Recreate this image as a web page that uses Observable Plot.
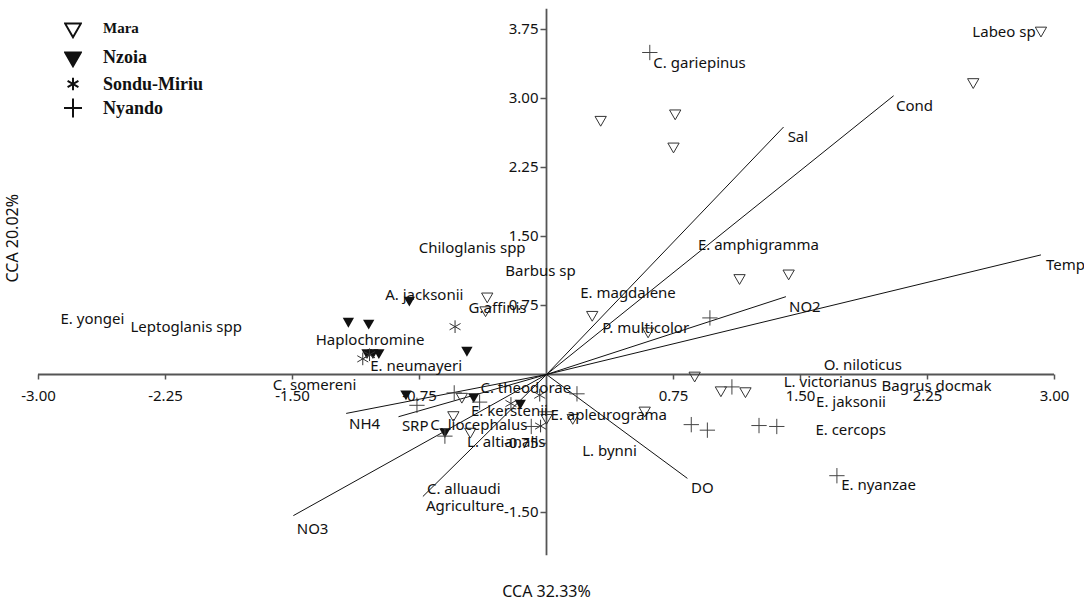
<!DOCTYPE html>
<html><head><meta charset="utf-8">
<script src="https://cdn.jsdelivr.net/npm/d3@7"></script>
<script src="https://cdn.jsdelivr.net/npm/@observablehq/plot@0.6"></script>
<style>
body{margin:0;background:#fff;}
#wrap{position:relative;width:1084px;height:606px;}
#legend{position:absolute;left:0;top:0;width:300px;font-family:"Liberation Serif","Times New Roman",serif;font-weight:bold;color:#111;}
.row{position:absolute;left:64px;height:22px;display:flex;align-items:center;white-space:nowrap;}
.row svg{width:18px;height:22px;margin-right:21px;flex:none;}
</style></head><body>
<div id="wrap"><div id="chart"></div><div id="legend"></div></div>
<script>
// Site scores per river (CCA axis 1, CCA axis 2)
const maraPts = [[2.92,3.74],[2.52,3.18],[0.32,2.77],[0.76,2.84],[0.75,2.48],[1.14,1.05],[1.43,1.10],[0.27,0.65],[0.60,0.47],[0.875,-0.01],[1.03,-0.17],[1.175,-0.18],[0.58,-0.39],[0.155,-0.47],[0.0,-0.47],[-0.35,0.85],[-0.36,0.70],[-0.50,-0.24],[-0.55,-0.44],[-0.45,-0.62]];
const nzoiaPts = [[-0.81,0.81],[-1.17,0.58],[-1.05,0.56],[-0.47,0.265],[-1.06,0.24],[-1.025,0.24],[-0.99,0.24],[-0.83,-0.21],[-0.43,-0.24],[-0.155,-0.31],[-0.60,-0.62]];
const sonduPts = [[-0.54,0.52],[-1.085,0.17],[-1.045,0.215],[-0.21,-0.315],[-0.04,-0.225],[-0.035,-0.56]];
const nyandoPts = [[0.61,3.50],[0.965,0.615],[1.095,-0.135],[0.18,-0.21],[0.855,-0.545],[0.95,-0.605],[1.255,-0.555],[1.36,-0.565],[1.715,-1.10],[-0.765,-0.335],[-0.545,-0.20],[-0.395,-0.30],[-0.60,-0.67],[-0.09,-0.565],[0.0,-0.405]];

// Environmental vectors
const envNames = ["Temp","NO2","Cond","Sal","DO","NH4","SRP","NO3","Agriculture"];
const envX = [2.92,1.414,2.05,1.40,0.832,-1.183,-0.874,-1.495,-0.73];
const envY = [1.30,0.846,3.03,2.69,-1.129,-0.423,-0.459,-1.534,-1.326];

// Text labels (species and variables), positioned at their left edge
const labelText = ["Labeo sp","C. gariepinus","Sal","Cond","E. amphigramma","Temp","Chiloglanis spp","Barbus sp","E. magdalene","P. multicolor","NO2","A. jacksonii","G.affinis","E. yongei","Leptoglanis spp","Haplochromine","E. neumayeri","O. niloticus","L. victorianus","Bagrus docmak","E. jaksonii","C. somereni","C. theodorae","E. kerstenii","E. apleurograma","NH4","SRP","C. liocephalus","L. altianalis","E. cercops","L. bynni","DO","E. nyanzae","C. alluaudi","Agriculture","NO3"];
const labelX = [2.515,0.631,1.424,2.064,0.894,2.95,-0.755,-0.243,0.199,0.329,1.432,-0.953,-0.46,-2.87,-2.457,-1.363,-1.041,1.638,1.401,1.979,1.592,-1.617,-0.39,-0.446,0.024,-1.166,-0.854,-0.686,-0.469,1.588,0.211,0.853,1.74,-0.706,-0.712,-1.475];
const labelY = [3.72,3.38,2.58,2.92,1.41,1.186,1.376,1.126,0.889,0.50,0.729,0.86,0.72,0.60,0.516,0.373,0.086,0.10,-0.079,-0.129,-0.296,-0.118,-0.154,-0.398,-0.44,-0.538,-0.566,-0.548,-0.738,-0.607,-0.835,-1.236,-1.207,-1.247,-1.433,-1.677];

const xTicks = [-3,-2.25,-1.5,-0.75,0.75,1.5,2.25,3];
const yTicks = [-1.5,-0.75,0.75,1.5,2.25,3,3.75];

const rivers = ["Mara","Nzoia","Sondu-Miriu","Nyando"];

const s3 = Math.sqrt(3);
const triDown = {draw(c, size){const y = Math.sqrt(size/(s3*3)); c.moveTo(0,2*y); c.lineTo(-s3*y,-y); c.lineTo(s3*y,-y); c.closePath();}};
const tickDown = {draw(c){c.moveTo(0,0); c.lineTo(0,5);}};
const tickLeft = {draw(c){c.moveTo(0,0); c.lineTo(-6,0);}};

const env = envNames.map((n,i)=>({n, x:envX[i], y:envY[i]}));
const labels = labelText.map((t,i)=>({t, x:labelX[i], y:labelY[i]}));

const chart = Plot.plot({
  width:1084, height:606,
  marginLeft:38, marginRight:30, marginTop:6, marginBottom:48,
  x:{domain:[-3,3], axis:null},
  y:{domain:[-2,4], axis:null},
  style:{fontFamily:"'Noto Sans', sans-serif", fontSize:"15px", color:"#111", background:"#fff", overflow:"visible"},
  marks:[
    Plot.ruleY([0], {x1:-3, x2:3, stroke:"#555", strokeWidth:1.8}),
    Plot.ruleX([0], {y1:-1.97, y2:3.97, stroke:"#555", strokeWidth:1.8}),
    Plot.dot(xTicks, {x:d=>d, y:0, symbol:tickDown, fill:"none", stroke:"#555", strokeWidth:1.5}),
    Plot.dot(yTicks, {x:0, y:d=>d, symbol:tickLeft, fill:"none", stroke:"#555", strokeWidth:1.5}),
    Plot.text(xTicks, {x:d=>d, y:0, text:d=>d.toFixed(2), dy:22, fill:"#111"}),
    Plot.text(yTicks, {x:0, y:d=>d, text:d=>d.toFixed(2), textAnchor:"end", dx:-8, fill:"#111"}),
    Plot.link(env, {x1:0, y1:0, x2:"x", y2:"y", stroke:"#111", strokeWidth:1}),
    Plot.dot(maraPts, {x:d=>d[0], y:d=>d[1], symbol:triDown, r:4.2, fill:"none", stroke:"#333", strokeWidth:1}),
    Plot.dot(nzoiaPts, {x:d=>d[0], y:d=>d[1], symbol:triDown, r:4.2, fill:"#111", stroke:"none"}),
    Plot.dot(sonduPts, {x:d=>d[0], y:d=>d[1], symbol:"asterisk", r:6, fill:"none", stroke:"#333", strokeWidth:1}),
    Plot.dot(nyandoPts, {x:d=>d[0], y:d=>d[1], symbol:"plus", r:5, fill:"none", stroke:"#444", strokeWidth:1}),
    Plot.text(labels, {x:"x", y:"y", text:"t", textAnchor:"start", fill:"#111"}),
    Plot.text(["CCA 32.33%"], {x:0, text:d=>d, frameAnchor:"bottom", dy:38, fontSize:16, fill:"#111"}),
    Plot.text(["CCA 20.02%"], {text:d=>d, frameAnchor:"left", rotate:-90, dx:-26, fontSize:16, fill:"#111"})
  ]
});
document.getElementById("chart").appendChild(chart);

// Legend
const legendSyms = [
  {sym:triDown, fill:"none", stroke:"#111", size:110},
  {sym:triDown, fill:"#111", stroke:"#111", size:110},
  {sym:d3.symbolAsterisk, fill:"none", stroke:"#111", size:110},
  {sym:d3.symbolPlus, fill:"none", stroke:"#111", size:120}
];
const rowCenters = [28,57,84,108];
const rowFont = [15,18,18,18];
const leg = d3.select("#legend");
rivers.forEach((name,i)=>{
  const row = leg.append("div").attr("class","row").style("top",(rowCenters[i]-11)+"px");
  const svg = row.append("svg");
  svg.append("path").attr("transform","translate(9,11)")
    .attr("d", d3.symbol(legendSyms[i].sym, legendSyms[i].size)())
    .attr("fill", legendSyms[i].fill).attr("stroke", legendSyms[i].stroke).attr("stroke-width", 2);
  row.append("span").style("font-size", rowFont[i]+"px").text(name);
});
</script>
</body></html>
